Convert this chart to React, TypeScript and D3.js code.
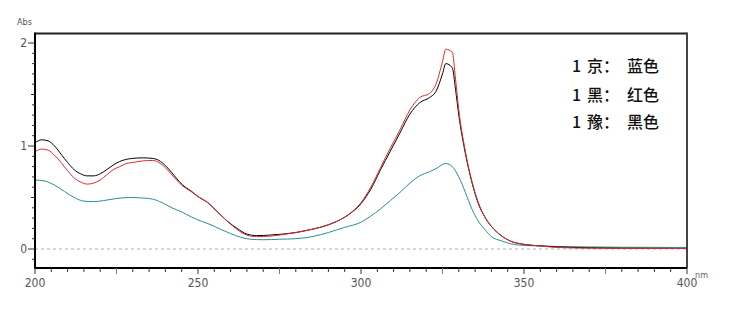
import React from "react";
import * as d3 from "d3";

const wavelengths = [200, 202, 204, 206, 208, 210, 212, 214, 216, 218, 220, 222, 224, 226, 228, 230, 233, 236, 238, 240, 242, 245, 248, 250, 253, 256, 259, 262, 265, 268, 272, 276, 280, 284, 288, 292, 296, 300, 303, 306, 309, 312, 315, 318, 321, 323, 325, 326, 328, 329, 330, 332, 334, 336, 338, 340, 343, 346, 350, 355, 360, 370, 380, 400];

// 1 豫 (black)
const yuValues = [1.03, 1.06, 1.05, 1.0, 0.92, 0.84, 0.77, 0.73, 0.71, 0.71, 0.73, 0.77, 0.815, 0.85, 0.87, 0.88, 0.885, 0.88, 0.86, 0.81, 0.74, 0.63, 0.56, 0.51, 0.45, 0.36, 0.27, 0.2, 0.145, 0.13, 0.135, 0.145, 0.16, 0.185, 0.215, 0.26, 0.33, 0.44, 0.58, 0.77, 0.95, 1.13, 1.31, 1.42, 1.47, 1.53, 1.7, 1.8, 1.76, 1.55, 1.3, 0.93, 0.65, 0.44, 0.31, 0.22, 0.13, 0.075, 0.045, 0.03, 0.02, 0.012, 0.008, 0.005];

// 1 黑 (red)
const heiValues = [0.945, 0.97, 0.96, 0.91, 0.84, 0.76, 0.69, 0.65, 0.63, 0.64, 0.67, 0.72, 0.77, 0.8, 0.83, 0.84, 0.855, 0.86, 0.84, 0.79, 0.72, 0.62, 0.555, 0.51, 0.45, 0.36, 0.27, 0.19, 0.135, 0.12, 0.125, 0.14, 0.16, 0.185, 0.215, 0.26, 0.33, 0.45, 0.6, 0.79, 0.98, 1.16, 1.35, 1.47, 1.51, 1.6, 1.82, 1.94, 1.91, 1.65, 1.35, 0.95, 0.66, 0.45, 0.31, 0.22, 0.13, 0.075, 0.045, 0.03, 0.015, 0.008, 0.005, 0.005];

const jingWavelengths = [200, 203, 206, 209, 212, 215, 218, 221, 225, 229, 233, 236, 239, 242, 245, 248, 251, 254, 257, 260, 263, 266, 270, 275, 280, 285, 290, 295, 300, 303, 306, 309, 312, 315, 318, 321, 323, 326, 328, 330, 332, 334, 336, 338, 340, 343, 346, 350, 355, 360, 370, 380, 400];
// 1 京 (teal/blue)
const jingValues = [0.67, 0.66, 0.62, 0.56, 0.5, 0.465, 0.46, 0.47, 0.49, 0.5, 0.495, 0.485, 0.45, 0.4, 0.36, 0.31, 0.27, 0.235, 0.19, 0.15, 0.115, 0.095, 0.09, 0.095, 0.1, 0.12, 0.16, 0.21, 0.26, 0.32, 0.39, 0.47, 0.55, 0.64, 0.71, 0.75, 0.78, 0.83, 0.8, 0.7, 0.55, 0.39, 0.27, 0.19, 0.12, 0.08, 0.05, 0.035, 0.03, 0.025, 0.02, 0.017, 0.015];

const xTickLabels = [200, 250, 300, 350, 400];
const yTickLabels = [0, 1, 2];
const legendLines = [
  { num: "1", name: "京：", color: "蓝色" },
  { num: "1", name: "黑：", color: "红色" },
  { num: "1", name: "豫：", color: "黑色" },
];

export default function App() {
  const W = 733, H = 315;
  const x = d3.scaleLinear().domain([200, 400]).range([35, 687]);
  const y = d3.scaleLinear().domain([0, 2]).range([249, 43]);
  const top = 33.5, bottom = 268;
  const line = d3
    .line<[number, number]>()
    .x((d) => x(d[0]))
    .y((d) => y(d[1]))
    .curve(d3.curveMonotoneX);
  const series = [
    { color: "#2a8f8f", data: jingWavelengths.map((w, i) => [w, jingValues[i]] as [number, number]) },
    { color: "#000000", data: wavelengths.map((w, i) => [w, yuValues[i]] as [number, number]) },
    { color: "#e3262e", data: wavelengths.map((w, i) => [w, heiValues[i]] as [number, number]) },
  ];
  const xMinor = d3.range(205, 400, 5).filter((v) => v % 25 !== 0);
  const xMid = d3.range(225, 400, 50);
  const yMinor = d3.range(-1, 21).map((v) => v / 10).filter((v) => Math.abs(v * 10) % 5 !== 0);
  const yMid = [0.5, 1.5];
  const tickFont = "'Liberation Sans Narrow', 'DejaVu Sans Condensed', 'Liberation Sans', sans-serif";
  return (
    <svg width={W} height={H} style={{ position: "fixed", left: 0, top: 0, background: "#fff" }}>
      <rect x={0} y={0} width={W} height={H} fill="#fff" />
      {/* zero line */}
      <line x1={x(200)} x2={x(400)} y1={y(0)} y2={y(0)} stroke="#b0b0b0" strokeWidth={1} strokeDasharray="3,3" />
      {/* series */}
      {series.map((s, i) => (
        <path key={i} d={line(s.data) || ""} fill="none" stroke={s.color} strokeWidth={1} />
      ))}
      {/* frame */}
      <line x1={x(200)} x2={x(400)} y1={top} y2={top} stroke="#222" strokeWidth={2} />
      <line x1={x(400)} x2={x(400)} y1={top - 1} y2={bottom} stroke="#444" strokeWidth={2} />
      <line x1={x(200)} x2={x(200)} y1={top - 1} y2={bottom + 1} stroke="#000" strokeWidth={2} />
      <line x1={x(200) - 1} x2={x(400)} y1={bottom} y2={bottom} stroke="#000" strokeWidth={2} />
      {/* x ticks */}
      {xMinor.map((v) => (
        <line key={"xm" + v} x1={x(v)} x2={x(v)} y1={bottom} y2={bottom + 4} stroke="#333" strokeWidth={1} />
      ))}
      {xMid.map((v) => (
        <line key={"xd" + v} x1={x(v)} x2={x(v)} y1={bottom} y2={bottom + 6} stroke="#777" strokeWidth={1} />
      ))}
      {xTickLabels.map((v) => (
        <g key={"xl" + v}>
          <line x1={x(v)} x2={x(v)} y1={bottom} y2={bottom + 6} stroke="#333" strokeWidth={1} />
          <text x={x(v)} y={bottom + 19} textAnchor="middle" fontSize={12} fill="#555" fontFamily={tickFont}>
            {v}
          </text>
        </g>
      ))}
      <text x={695} y={278} fontSize={9} fill="#666" fontFamily={tickFont}>nm</text>
      {/* y ticks */}
      {yMinor.map((v) => (
        <line key={"ym" + v} x1={x(200) - 3} x2={x(200)} y1={y(v)} y2={y(v)} stroke="#333" strokeWidth={1} />
      ))}
      {yMid.map((v) => (
        <line key={"yd" + v} x1={x(200) - 4} x2={x(200)} y1={y(v)} y2={y(v)} stroke="#333" strokeWidth={1} />
      ))}
      {yTickLabels.map((v) => (
        <g key={"yl" + v}>
          <line x1={x(200) - 7} x2={x(200)} y1={y(v)} y2={y(v)} stroke="#333" strokeWidth={1} />
          <text x={27} y={y(v) + 4} textAnchor="end" fontSize={12} fill="#555" fontFamily={tickFont}>
            {v}
          </text>
        </g>
      ))}
      <text x={17} y={25} fontSize={9} fill="#555" fontFamily={tickFont}>Abs</text>
      {/* legend */}
      {legendLines.map((l, i) => {
        const by = [72, 101, 128][i];
        return (
          <text key={"lg" + i} y={by} fontSize={16} fontWeight={500} fill="#111" fontFamily="'Noto Sans CJK SC', sans-serif">
            <tspan x={572}>{l.num}</tspan>
            <tspan x={587}>{l.name}</tspan>
            <tspan x={627}>{l.color}</tspan>
          </text>
        );
      })}
    </svg>
  );
}
